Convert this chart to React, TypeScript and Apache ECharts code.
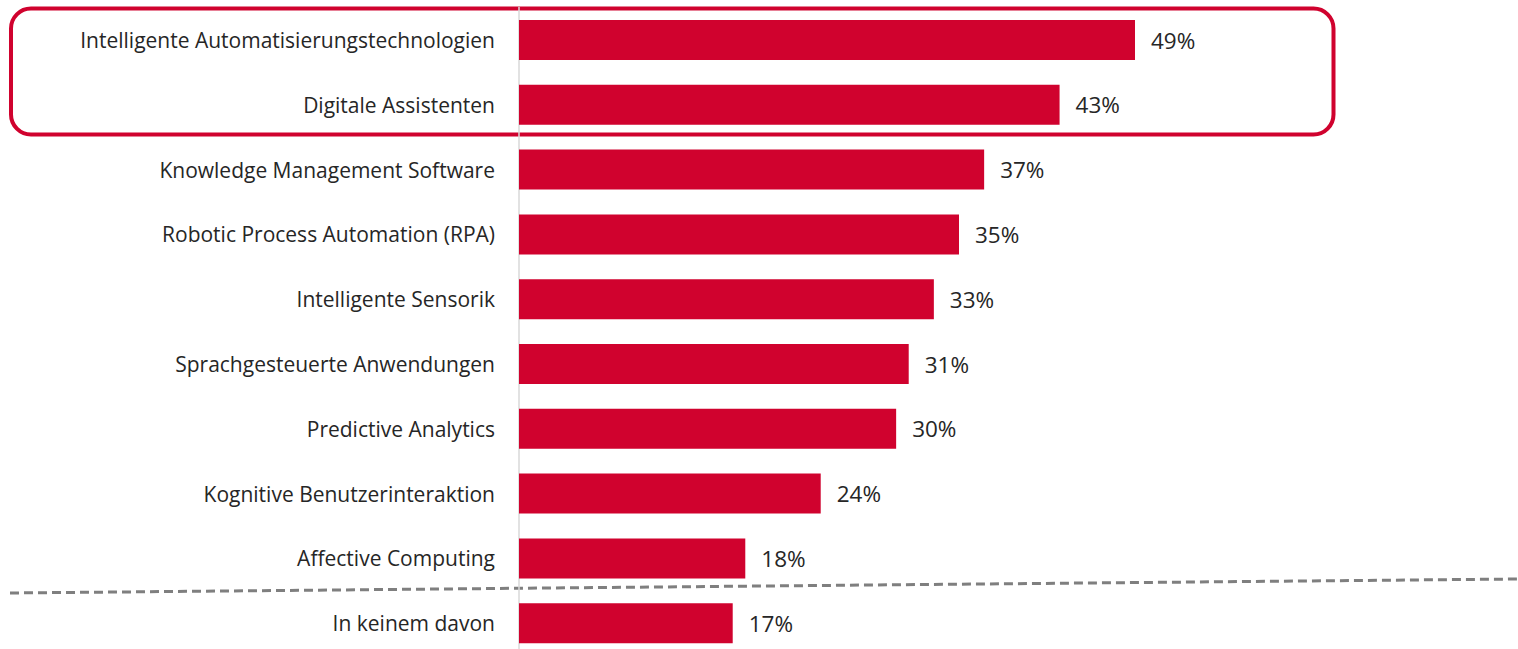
import React, { useEffect, useRef } from "react";
import * as echarts from "echarts";

const categories = [
  "Intelligente Automatisierungstechnologien",
  "Digitale Assistenten",
  "Knowledge Management Software",
  "Robotic Process Automation (RPA)",
  "Intelligente Sensorik",
  "Sprachgesteuerte Anwendungen",
  "Predictive Analytics",
  "Kognitive Benutzerinteraktion",
  "Affective Computing",
  "In keinem davon",
];
const values = [49, 43, 37, 35, 33, 31, 30, 24, 18, 17];

const RED = "#D0022E";
const FONT = "'Open Sans', 'Noto Sans', sans-serif";

export default function App() {
  const ref = useRef<HTMLDivElement>(null);
  useEffect(() => {
    document.body.style.margin = "0";
    const chart = echarts.init(ref.current!, null, { renderer: "svg" });
    chart.setOption({
      animation: false,
      backgroundColor: "#ffffff",
      grid: {
        left: 519,
        top: 7.6,
        width: 880,
        height: 648,
        containLabel: false,
        outerBoundsMode: "none",
      },
      xAxis: {
        type: "value",
        min: 0,
        max: 70,
        show: false,
        splitLine: { show: false },
      },
      yAxis: {
        type: "category",
        data: categories,
        inverse: true,
        axisTick: { show: false },
        axisLine: { show: true, lineStyle: { color: "#D9D9D9", width: 1.5 } },
        axisLabel: {
          margin: 24,
          color: "#262626",
          fontSize: 21,
          fontFamily: FONT,
        },
      },
      series: [
        {
          type: "bar",
          data: values,
          barWidth: 40,
          itemStyle: { color: RED },
          label: {
            show: true,
            position: "right",
            distance: 16,
            formatter: "{c}%",
            color: "#262626",
            fontSize: 22.5,
            fontFamily: FONT,
          },
        },
      ],
      graphic: [
        {
          type: "rect",
          shape: { x: 11, y: 8.5, width: 1322.5, height: 126, r: 20 },
          style: { fill: "none", stroke: RED, lineWidth: 4 },
          silent: true,
        },
        {
          type: "line",
          shape: { x1: 10, y1: 593, x2: 1518, y2: 579 },
          style: { stroke: "#7F7F7F", lineWidth: 3, lineDash: [9, 5] },
          silent: true,
        },
      ],
    });
    return () => chart.dispose();
  }, []);
  return (
    <div
      ref={ref}
      style={{ position: "absolute", left: 0, top: 0, width: 1518, height: 649 }}
    />
  );
}
